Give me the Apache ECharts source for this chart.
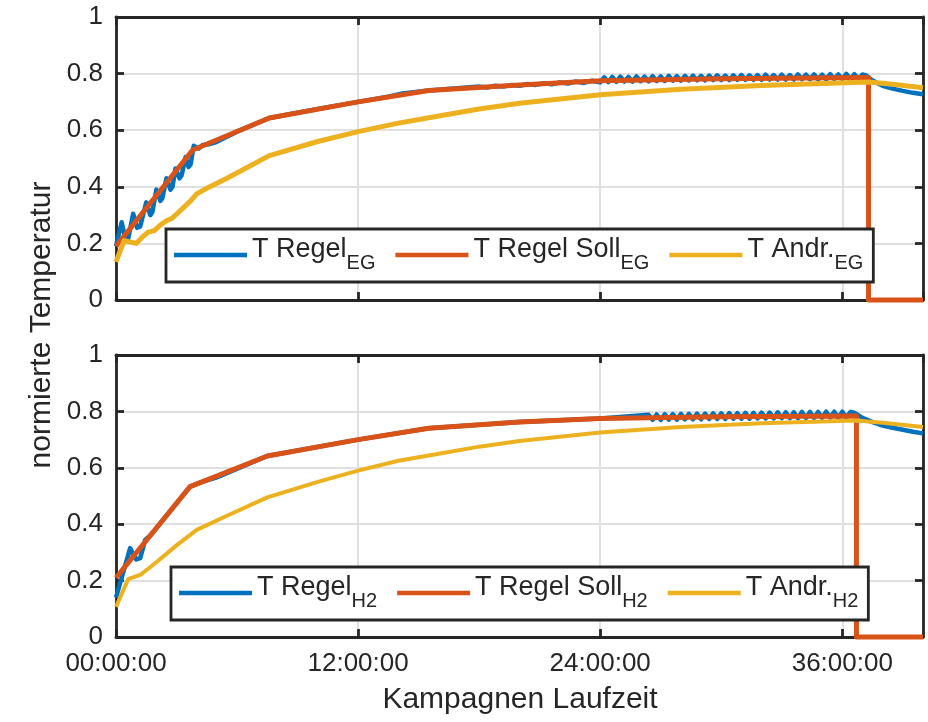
<!DOCTYPE html>
<html>
<head>
<meta charset="utf-8">
<script src="https://cdn.jsdelivr.net/npm/echarts@6/dist/echarts.min.js"></script>
<style>
  html, body { margin: 0; padding: 0; background: #fff; }
  #chart { width: 928px; height: 722px; }
</style>
</head>
<body>
<div id="chart"></div>
<script>
// Campaign runtime in hours, normalised temperatures
const xTicksHours = [0, 12, 24, 36];
const yTickValues = [0, 0.2, 0.4, 0.6, 0.8, 1];

// Upper panel: EG
const regelEG = [
  [0, 0.19], [0.28, 0.275], [0.45, 0.222], [0.6, 0.215], [0.85, 0.305], [1.05, 0.255], [1.2, 0.26],
  [1.5, 0.345], [1.7, 0.30], [1.8, 0.31], [2.0, 0.39], [2.2, 0.35], [2.3, 0.36], [2.5, 0.43],
  [2.7, 0.39], [2.8, 0.40], [2.95, 0.465], [3.15, 0.43], [3.25, 0.44], [3.45, 0.505], [3.6, 0.47],
  [3.7, 0.48], [3.85, 0.545], [4.1, 0.535], [4.3, 0.548], [4.6, 0.55], [4.9, 0.556], [5.3, 0.57],
  [6, 0.595], [7.6, 0.643], [10, 0.675], [12, 0.70], [13.5, 0.718], [14.2, 0.73], [15.5, 0.74],
  [18.0, 0.754], [18.4, 0.751], [18.8, 0.757], [19.2, 0.754], [19.6, 0.760], [20.0, 0.757],
  [20.4, 0.763], [20.8, 0.760], [21.2, 0.766], [21.6, 0.762], [22.0, 0.769], [22.4, 0.765],
  [22.8, 0.772], [23.2, 0.767], [23.6, 0.775], [24.0, 0.769],
  [24.2, 0.787], [24.4, 0.770], [24.6, 0.788], [24.8, 0.771], [25.0, 0.789], [25.2, 0.772],
  [25.4, 0.788], [25.6, 0.772], [25.8, 0.790], [26.0, 0.773], [26.2, 0.789], [26.4, 0.773],
  [26.6, 0.791], [26.8, 0.774], [27.0, 0.790], [27.2, 0.774], [27.4, 0.792], [27.6, 0.775],
  [27.8, 0.791], [28.0, 0.775], [28.2, 0.792], [28.4, 0.776], [28.6, 0.793], [28.8, 0.776],
  [29.0, 0.792], [29.2, 0.776], [29.4, 0.793], [29.6, 0.777], [29.8, 0.794], [30.0, 0.777],
  [30.2, 0.793], [30.4, 0.777], [30.6, 0.794], [30.8, 0.778], [31.0, 0.795], [31.2, 0.778],
  [31.4, 0.794], [31.6, 0.778], [31.8, 0.795], [32.0, 0.778], [32.2, 0.796], [32.4, 0.779],
  [32.6, 0.795], [32.8, 0.779], [33.0, 0.796], [33.2, 0.779], [33.4, 0.795], [33.6, 0.779],
  [33.8, 0.797], [34.0, 0.780], [34.2, 0.796], [34.4, 0.780], [34.6, 0.797], [34.8, 0.780],
  [35.0, 0.796], [35.2, 0.780], [35.4, 0.798], [35.6, 0.781], [35.8, 0.797], [36.0, 0.781],
  [36.2, 0.799], [36.4, 0.781], [36.6, 0.798], [36.8, 0.781], [37.0, 0.797], [37.2, 0.793],
  [37.4, 0.780], [37.7, 0.768], [38.0, 0.757], [38.5, 0.747], [39.0, 0.739], [39.5, 0.732], [40, 0.727]
];
const sollEG = [
  [0, 0.19], [3.8, 0.53], [7.6, 0.643], [12, 0.70], [15.5, 0.74], [20, 0.76], [24, 0.775],
  [30, 0.782], [37.3, 0.786], [37.3, 0], [40, 0]
];
const andrEG = [
  [0, 0.135], [0.4, 0.21], [0.7, 0.205], [1.0, 0.20], [1.3, 0.222], [1.6, 0.24], [1.9, 0.245],
  [2.2, 0.265], [2.5, 0.28], [2.8, 0.29], [3.1, 0.31], [3.4, 0.33], [3.7, 0.35], [4.0, 0.375],
  [4.5, 0.395], [5.5, 0.43], [7.6, 0.51], [10, 0.56], [12, 0.595], [14, 0.625], [16, 0.65],
  [18, 0.675], [20, 0.695], [24, 0.725], [28, 0.745], [32, 0.758], [37.3, 0.77], [38.5, 0.762], [40, 0.75]
];

// Lower panel: H2
const regelH2 = [
  [0, 0.14], [0.7, 0.315], [1.0, 0.275], [1.2, 0.28], [1.45, 0.345], [1.7, 0.36], [2.0, 0.386],
  [3.67, 0.533], [4.2, 0.548], [5.0, 0.566], [7.5, 0.642], [12, 0.70], [15.5, 0.74], [20, 0.762],
  [24, 0.775], [26.4, 0.788], [26.6, 0.770], [26.8, 0.789], [27.0, 0.770], [27.2, 0.790],
  [27.4, 0.771], [27.6, 0.790], [27.8, 0.771], [28.0, 0.791], [28.2, 0.772], [28.4, 0.791],
  [28.6, 0.772], [28.8, 0.792], [29.0, 0.772], [29.2, 0.792], [29.4, 0.773], [29.6, 0.793],
  [29.8, 0.773], [30.0, 0.793], [30.2, 0.773], [30.4, 0.794], [30.6, 0.774], [30.8, 0.794],
  [31.0, 0.774], [31.2, 0.795], [31.4, 0.774], [31.6, 0.795], [31.8, 0.775], [32.0, 0.796],
  [32.2, 0.775], [32.4, 0.796], [32.6, 0.775], [32.8, 0.797], [33.0, 0.776], [33.2, 0.797],
  [33.4, 0.776], [33.6, 0.797], [33.8, 0.776], [34.0, 0.798], [34.2, 0.777], [34.4, 0.798],
  [34.6, 0.777], [34.8, 0.798], [35.0, 0.777], [35.2, 0.799], [35.4, 0.778], [35.6, 0.799],
  [35.8, 0.778], [36.0, 0.799], [36.2, 0.778], [36.4, 0.798], [36.6, 0.795], [37.0, 0.777],
  [37.5, 0.762], [38.0, 0.750], [38.5, 0.742], [39.0, 0.735], [39.5, 0.728], [40, 0.722]
];
const sollH2 = [
  [0, 0.21], [3.67, 0.533], [7.5, 0.642], [12, 0.70], [15.5, 0.74], [20, 0.762], [24, 0.775],
  [30, 0.781], [36.7, 0.784], [36.7, 0], [40, 0]
];
const andrH2 = [
  [0, 0.107], [0.6, 0.205], [1.2, 0.22], [2, 0.265], [3, 0.325], [4, 0.38], [5.5, 0.43],
  [7.5, 0.495], [10, 0.55], [12, 0.59], [14, 0.625], [16, 0.65], [18, 0.675], [20, 0.695],
  [24, 0.725], [28, 0.745], [32, 0.758], [36.7, 0.768], [38, 0.76], [40, 0.745]
];

const legendParts = {
  'T Regel EG': ['T Regel', 'EG'],
  'T Regel Soll EG': ['T Regel Soll', 'EG'],
  'T Andr. EG': ['T Andr.', 'EG'],
  'T Regel H2': ['T Regel', 'H2'],
  'T Regel Soll H2': ['T Regel Soll', 'H2'],
  'T Andr. H2': ['T Andr.', 'H2']
};

const C_BLUE = '#0072BD', C_RED = '#D95319', C_YELLOW = '#EDB120';
const INK = '#262626';
const GRID_INK = '#e0e0e0';
const FONT = '"Liberation Sans", Arial, Helvetica, sans-serif';

const grids = [
  { left: 116, right: 5, top: 17, height: 283 },
  { left: 116, right: 5, top: 355, height: 282 }
];

function fmtHours(v) {
  return String(v).padStart(2, '0') + ':00:00';
}

const boxLine = { color: INK, width: 2.8 };
const xAxes = [], yAxes = [];
[0, 1].forEach(g => {
  const showLabels = g === 1;
  xAxes.push({
    type: 'value', gridIndex: g, min: 0, max: 40, interval: 12, position: 'bottom',
    axisLine: { onZero: false, lineStyle: boxLine },
    axisTick: { inside: true, length: 8, lineStyle: boxLine },
    axisLabel: {
      show: showLabels, showMaxLabel: false, margin: 14, fontSize: 26, color: INK, fontFamily: FONT,
      formatter: v => (xTicksHours.includes(v) ? fmtHours(v) : '')
    },
    splitLine: { show: true, lineStyle: { color: GRID_INK, width: 2 } }
  });
  xAxes.push({
    type: 'value', gridIndex: g, min: 0, max: 40, interval: 12, position: 'top',
    axisLine: { onZero: false, lineStyle: boxLine },
    axisTick: { inside: true, length: 8, lineStyle: boxLine },
    axisLabel: { show: false }, splitLine: { show: false }
  });
  yAxes.push({
    type: 'value', gridIndex: g, min: 0, max: 1, interval: 0.2, position: 'left',
    axisLine: { show: true, onZero: false, lineStyle: boxLine },
    axisTick: { show: true, inside: true, length: 8, lineStyle: boxLine },
    axisLabel: {
      margin: 13, fontSize: 26, color: INK, fontFamily: FONT,
      formatter: v => {
        const t = yTickValues.find(y => Math.abs(y - v) < 1e-9);
        return t === undefined ? '' : (t === 0 || t === 1 ? String(t) : t.toFixed(1));
      }
    },
    splitLine: { show: true, lineStyle: { color: GRID_INK, width: 2 } }
  });
  yAxes.push({
    type: 'value', gridIndex: g, min: 0, max: 1, interval: 0.2, position: 'right',
    axisLine: { show: true, onZero: false, lineStyle: boxLine },
    axisTick: { show: true, inside: true, length: 8, lineStyle: boxLine },
    axisLabel: { show: false }, splitLine: { show: false }
  });
});

function lineSeries(name, data, color, g, width) {
  return {
    name, type: 'line', data, xAxisIndex: g * 2, yAxisIndex: g * 2,
    showSymbol: false, symbol: 'none', clip: false, animation: false,
    lineStyle: { color, width, join: 'round', cap: 'butt' },
    itemStyle: { color },
    emphasis: { disabled: true }
  };
}

const series = [
  lineSeries('T Regel EG', regelEG, C_BLUE, 0, 4.5),
  lineSeries('T Regel Soll EG', sollEG, C_RED, 0, 5),
  lineSeries('T Andr. EG', andrEG, C_YELLOW, 0, 5),
  lineSeries('T Regel H2', regelH2, C_BLUE, 1, 4.5),
  lineSeries('T Regel Soll H2', sollH2, C_RED, 1, 5),
  lineSeries('T Andr. H2', andrH2, C_YELLOW, 1, 4)
];

// Legend entries: main text with a lowered subscript
function legendFor(names, left, top) {
  return {
    data: names, left, top, orient: 'horizontal',
    icon: 'rect', itemWidth: 73, itemHeight: 4.5, itemGap: 20,
    padding: [7, 10, 0, 8],
    borderColor: INK, borderWidth: 2.8, backgroundColor: '#fff',
    selectedMode: false,
    formatter: n => '{m|' + legendParts[n][0] + '}{s|' + legendParts[n][1] + '}',
    textStyle: {
      color: INK, fontFamily: FONT,
      rich: {
        m: { fontSize: 27, lineHeight: 38, verticalAlign: 'top', color: INK, fontFamily: FONT },
        s: { fontSize: 20, lineHeight: 20, padding: [17.5, 0, 8.5, 0], verticalAlign: 'top', color: INK, fontFamily: FONT }
      }
    }
  };
}

const chart = echarts.init(document.getElementById('chart'), null, { renderer: 'canvas' });
chart.setOption({
  animation: false,
  backgroundColor: '#fff',
  grid: grids,
  xAxis: xAxes,
  yAxis: yAxes,
  legend: [
    legendFor(['T Regel EG', 'T Regel Soll EG', 'T Andr. EG'], 166, 229),
    legendFor(['T Regel H2', 'T Regel Soll H2', 'T Andr. H2'], 171, 567)
  ],
  series,
  graphic: [
    {
      type: 'text', x: 520, y: 700, silent: true,
      style: { text: 'Kampagnen Laufzeit', fontSize: 30, fill: INK, fontFamily: FONT, align: 'center', verticalAlign: 'middle' }
    },
    {
      type: 'text', x: 42, y: 325, rotation: Math.PI / 2, silent: true,
      style: { text: 'normierte Temperatur', fontSize: 30, fill: INK, fontFamily: FONT, align: 'center', verticalAlign: 'middle' }
    }
  ]
});
</script>
</body>
</html>
